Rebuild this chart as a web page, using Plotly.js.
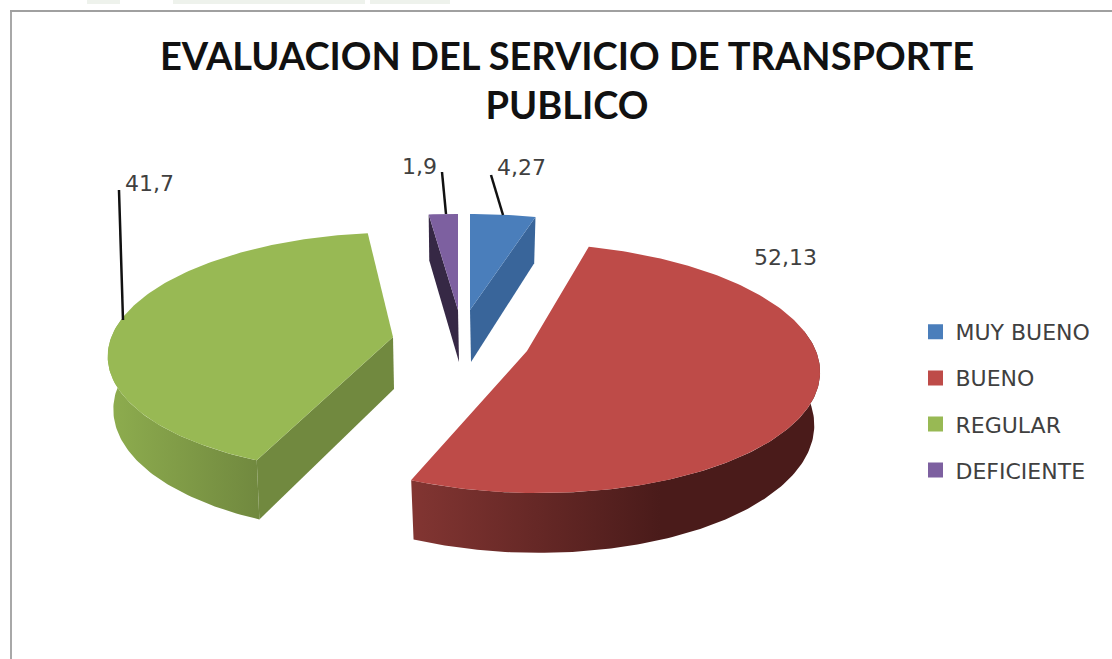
<!DOCTYPE html>
<html>
<head>
<meta charset="utf-8">
<script src="https://cdn.plot.ly/plotly-3.0.1.min.js"></script>
<style>html,body{margin:0;padding:0;background:#fff}#chart{width:1112px;height:659px}</style>
</head>
<body>
<div id="chart"></div>
<script>
// ---- data ----
const categories = ["MUY BUENO", "BUENO", "REGULAR", "DEFICIENTE"];
const values = [4.27, 52.13, 41.7, 1.9];
const chartTitle = "EVALUACION DEL SERVICIO DE TRANSPORTE<br>PUBLICO";

// ---- style ----
const topColors = ["#4a7ebb", "#be4b48", "#98b954", "#7d60a0"];
const faceColors = ["#39659a", null, "#71893f", "#362845"];
const wallColors = [null, ["#823532", "#4a1b1a"], ["#8dac4e", "#71893f"], null];
const wallStops = [null, [412, 660], [112, 257], null];

// ---- projection of the exploded tilted pie ----
const RX = 278, RY = 118, PERSP = 0.13, DEPTH = 52, BOTTOM_SHRINK = 0.98;
const WALL_FROM = 80, WALL_TO = 280, STEP = 1;
const placement = [
  {cx: 470, cy: 310, ax: 470, ay: 310, shear: 0,  sx: 1,    sy: 0.92, face: "end"},
  {cx: 530, cy: 352, ax: 527, ay: 351, shear: -9, sx: 1.03, sy: 1.04, face: null},
  {cx: 388, cy: 337, ax: 393, ay: 337, shear: 9,  sx: 0.995, sy: 1,   face: "start"},
  {cx: 458, cy: 310, ax: 458, ay: 310, shear: 0,  sx: 1,    sy: 0.92, face: "start"}
];
const labelPos = [
  {x: 521, y: 167}, {x: 785, y: 257}, {x: 149, y: 183}, {x: 419, y: 166}
];
const leaders = [
  {x: [491, 503], y: [175, 215]},
  null,
  {x: [119, 123], y: [190, 320]},
  {x: [442, 446], y: [172, 214]}
];
const topStrip = [[87, 120], [173, 365], [370, 450]];

function pt(p, deg, level) {
  const t = deg * Math.PI / 180, X = Math.sin(t), Y = Math.cos(t);
  const s = 1 / (1 + PERSP * Y);
  let dx = RX * p.sx * X * s + p.shear * Y;
  const dy = -RY * p.sy * Y * s;
  if (level) dx *= BOTTOM_SHRINK;
  return [p.cx + dx, p.cy + dy + (level ? DEPTH * s : 0)];
}
function poly(points, color, extra) {
  return Object.assign({
    type: "scatter", mode: "lines", x: points.map(q => q[0]), y: points.map(q => q[1]),
    fill: "toself", fillcolor: color, line: {width: 0}, hoverinfo: "skip", showlegend: false
  }, extra || {});
}

const total = values.reduce((a, b) => a + b, 0);
const ranges = [];
let acc = 0;
values.forEach(v => { const a = acc / total * 360; acc += v; ranges.push([a, acc / total * 360]); });

const traces = [];
// legend entries
categories.forEach((c, i) => traces.push({
  type: "scatter", mode: "markers", name: c, x: [null], y: [null], legendgroup: c,
  marker: {symbol: "square", size: 15, color: topColors[i]}, hoverinfo: "skip"
}));
// slices
values.forEach((v, i) => {
  const p = placement[i], [a, b] = ranges[i];
  if (p.face) {
    const d = p.face === "start" ? a : b;
    traces.push(poly([[p.ax, p.ay], pt(p, d, 0), pt(p, d, 1), [p.ax + 1, p.ay + DEPTH]], faceColors[i]));
  }
  if (wallColors[i]) {
    const from = Math.max(a, WALL_FROM), to = Math.min(b, WALL_TO), up = [], down = [];
    for (let d = from; d <= to; d += STEP) { up.push(pt(p, d, 0)); down.unshift(pt(p, d, 1)); }
    traces.push(poly(up.concat(down), wallColors[i][0], {
      fillgradient: {type: "horizontal", start: wallStops[i][0], stop: wallStops[i][1],
        colorscale: [[0, wallColors[i][0]], [1, wallColors[i][1]]]}
    }));
  }
  const rim = [[p.ax, p.ay]];
  for (let d = a; d < b; d += STEP) rim.push(pt(p, d, 0));
  rim.push(pt(p, b, 0));
  traces.push(poly(rim, topColors[i], {name: categories[i], text: String(v)}));
});
// leader lines
leaders.forEach(l => { if (l) traces.push({
  type: "scatter", mode: "lines", x: l.x, y: l.y, line: {color: "#111111", width: 2.5},
  hoverinfo: "skip", showlegend: false
}); });

const annotations = values.map((v, i) => ({
  x: labelPos[i].x, y: labelPos[i].y, xref: "x", yref: "y", showarrow: false,
  text: String(v).replace(".", ","), xanchor: "center", yanchor: "middle",
  font: {family: "DejaVu Sans", size: 22, color: "#404040"}
}));

const shapes = [
  {type: "line", xref: "x", yref: "y", x0: 11, x1: 11, y0: 11, y1: 659, line: {color: "#a8a8a8", width: 2}},
  {type: "line", xref: "x", yref: "y", x0: 10, x1: 1112, y0: 11, y1: 11, line: {color: "#a0a0a0", width: 2}}
].concat(topStrip.map(r => ({
  type: "rect", xref: "x", yref: "y", x0: r[0], x1: r[1], y0: 0, y1: 4, line: {width: 0}, fillcolor: "#eef2ec"
})));

const layout = {
  width: 1112, height: 659, margin: {l: 0, r: 0, t: 0, b: 0},
  paper_bgcolor: "#fff", plot_bgcolor: "#fff",
  xaxis: {range: [0, 1112], visible: false, fixedrange: true},
  yaxis: {range: [659, 0], visible: false, fixedrange: true},
  title: {text: chartTitle, x: 567 / 1112, xanchor: "center", y: 1 - 70 / 659, yanchor: "top",
    font: {family: "Lato", size: 38, weight: 700, color: "#111111"}},
  annotations,
  legend: {x: 915.5 / 1112, y: 1 - 311 / 659, xanchor: "left", yanchor: "top",
    bgcolor: "rgba(0,0,0,0)", tracegroupgap: 14.5, itemwidth: 30,
    font: {family: "DejaVu Sans", size: 22, color: "#404040"}},
  shapes
};
Plotly.newPlot("chart", traces, layout, {displayModeBar: false, staticPlot: true});
</script>
</body>
</html>
